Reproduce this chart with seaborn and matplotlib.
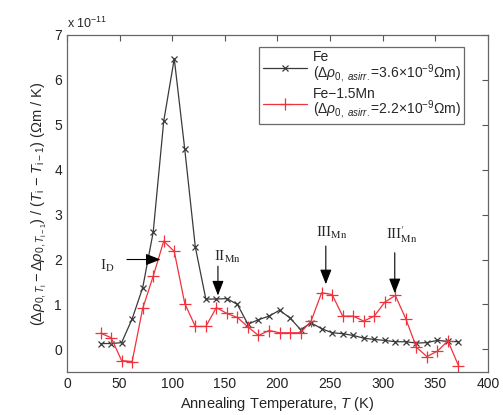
import numpy as np
import pandas as pd
import matplotlib
matplotlib.use("Agg")
import matplotlib.pyplot as plt
import seaborn as sns

# annealing temperatures (K) and rate values (units of 1e-11 Ohm m / K)
temps = [32, 42, 52, 62, 72, 82, 92, 102, 112, 122, 132, 142, 152, 162, 172, 182,
         192, 202, 212, 222, 232, 242, 252, 262, 272, 282, 292, 302, 312, 322, 332,
         342, 352, 362, 372]
fe = [0.13, 0.13, 0.15, 0.68, 1.37, 2.61, 5.08, 6.47, 4.45, 2.28, 1.12, 1.12, 1.13,
      1.00, 0.56, 0.66, 0.74, 0.87, 0.70, 0.44, 0.59, 0.46, 0.37, 0.35, 0.31, 0.25,
      0.22, 0.20, 0.17, 0.17, 0.14, 0.15, 0.20, 0.18, 0.17]
femn = [0.36, 0.26, -0.25, -0.27, 0.91, 1.63, 2.41, 2.18, 1.02, 0.51, 0.51, 0.93,
        0.80, 0.71, 0.50, 0.31, 0.42, 0.37, 0.37, 0.37, 0.63, 1.26, 1.22, 0.74, 0.74,
        0.63, 0.74, 1.05, 1.20, 0.68, 0.05, -0.16, -0.04, 0.19, -0.36]

lab_fe = 'Fe\n' + r'($\Delta\rho_{0,\ asirr.}$=3.6$\times$10$^{-9}$$\Omega$m)'
lab_mn = 'Fe\u22121.5Mn\n' + r'($\Delta\rho_{0,\ asirr.}$=2.2$\times$10$^{-9}$$\Omega$m)'

# peak annotations: label, text position, arrow start, arrow tip
peaks = [
    (r'I$_{\rm D}$', (38, 1.85), (57, 2.0), (89, 2.0)),
    (r'II$_{\rm Mn}$', (153, 2.05), (143.5, 1.85), (143.5, 1.2)),
    (r'III$_{\rm Mn}$', (252, 2.6), (246, 2.3), (246, 1.45)),
    (r'III$^{\prime}_{\rm Mn}$', (318, 2.55), (311.5, 2.15), (311.5, 1.25)),
]

sns.set_style("white")
plt.rcParams['font.family'] = ['Liberation Sans', 'DejaVu Sans']
plt.rcParams['mathtext.fontset'] = 'custom'
plt.rcParams['mathtext.rm'] = 'Liberation Sans'
plt.rcParams['mathtext.it'] = 'Liberation Sans:italic'

df = pd.DataFrame({'T': temps, 'Fe': fe, 'FeMn': femn})

fig = plt.figure(figsize=(5.03, 4.15), dpi=100)
ax = fig.add_axes([0.133, 0.104, 0.837, 0.812])

sns.lineplot(data=df, x='T', y='Fe', ax=ax, color='#3a3a3a', lw=0.9,
             marker='x', markersize=5, markeredgewidth=0.9, mec='#3a3a3a', label=lab_fe)
sns.lineplot(data=df, x='T', y='FeMn', ax=ax, color='#f0323c', lw=0.9,
             marker='+', markersize=9, markeredgewidth=0.9, mec='#f0323c', label=lab_mn)

for txt, tpos, start, tip in peaks:
    ax.text(tpos[0], tpos[1], txt, family='Liberation Serif', fontsize=11,
            ha='center', va='center', math_fontfamily='stix')
    ax.annotate('', xy=tip, xytext=start,
                arrowprops=dict(arrowstyle='-|>,head_length=0.9,head_width=0.35',
                                color='black', lw=0.8, shrinkA=0, shrinkB=0))

ax.set_xlim(0, 400)
ax.set_ylim(-0.5, 7)
ax.set_xticks(np.arange(0, 401, 50))
ax.set_yticks(np.arange(0, 8, 1))
ax.tick_params(direction='in', length=4, top=True, right=True, labelsize=10,
               color='#555555', labelcolor='#222222')
for sp in ax.spines.values():
    sp.set_color('#666666')
    sp.set_linewidth(0.9)

ax.set_xlabel(r'Annealing Temperature, $T$ (K)', fontsize=10.5, labelpad=3)
ax.set_ylabel(r'$(\Delta\rho_{0,T_{\rm i}} - \Delta\rho_{0,T_{\rm i-1}})$ / $(T_{\rm i}$ $-$ $T_{\rm i-1})$ ($\Omega$m / K)',
              fontsize=10.5, labelpad=4)
ax.text(0.0, 1.012, r'x 10$^{-11}$', transform=ax.transAxes, fontsize=9,
        ha='left', va='bottom')

leg = ax.legend(loc='upper right', bbox_to_anchor=(0.96, 0.985), fontsize=10,
                frameon=True, fancybox=False, handlelength=3.2, borderpad=0.25,
                labelspacing=0.15, handletextpad=0.4)
for t in leg.get_texts():
    t.set_linespacing(0.85)
leg.get_frame().set_edgecolor('#444444')
leg.get_frame().set_linewidth(0.9)

fig.savefig('out.png', dpi=100)
